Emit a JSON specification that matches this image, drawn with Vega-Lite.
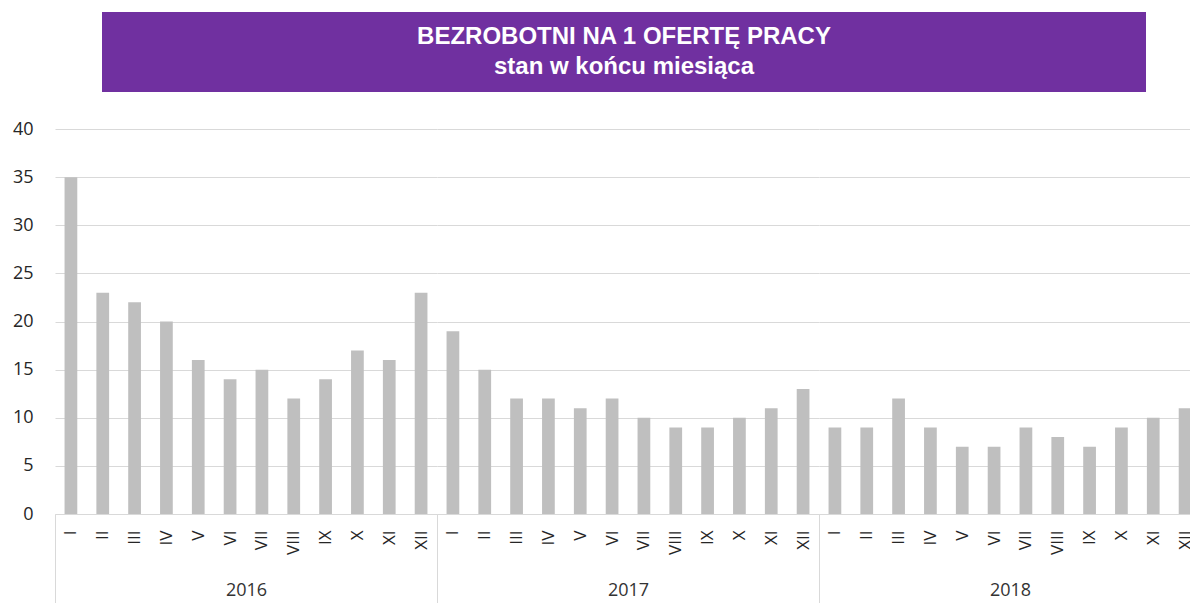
{
  "$schema": "https://vega.github.io/schema/vega-lite/v6.json",
  "padding": {"left": 12, "top": 12, "right": 0, "bottom": 0},
  "background": "white",
  "config": {"view": {"stroke": null}, "font": "Open Sans"},
  "datasets": {
    "bezrobotni": [
      {"year": "2016", "month": "I", "value": 35},
      {"year": "2016", "month": "II", "value": 23},
      {"year": "2016", "month": "III", "value": 22},
      {"year": "2016", "month": "IV", "value": 20},
      {"year": "2016", "month": "V", "value": 16},
      {"year": "2016", "month": "VI", "value": 14},
      {"year": "2016", "month": "VII", "value": 15},
      {"year": "2016", "month": "VIII", "value": 12},
      {"year": "2016", "month": "IX", "value": 14},
      {"year": "2016", "month": "X", "value": 17},
      {"year": "2016", "month": "XI", "value": 16},
      {"year": "2016", "month": "XII", "value": 23},
      {"year": "2017", "month": "I", "value": 19},
      {"year": "2017", "month": "II", "value": 15},
      {"year": "2017", "month": "III", "value": 12},
      {"year": "2017", "month": "IV", "value": 12},
      {"year": "2017", "month": "V", "value": 11},
      {"year": "2017", "month": "VI", "value": 12},
      {"year": "2017", "month": "VII", "value": 10},
      {"year": "2017", "month": "VIII", "value": 9},
      {"year": "2017", "month": "IX", "value": 9},
      {"year": "2017", "month": "X", "value": 10},
      {"year": "2017", "month": "XI", "value": 11},
      {"year": "2017", "month": "XII", "value": 13},
      {"year": "2018", "month": "I", "value": 9},
      {"year": "2018", "month": "II", "value": 9},
      {"year": "2018", "month": "III", "value": 12},
      {"year": "2018", "month": "IV", "value": 9},
      {"year": "2018", "month": "V", "value": 7},
      {"year": "2018", "month": "VI", "value": 7},
      {"year": "2018", "month": "VII", "value": 9},
      {"year": "2018", "month": "VIII", "value": 8},
      {"year": "2018", "month": "IX", "value": 7},
      {"year": "2018", "month": "X", "value": 9},
      {"year": "2018", "month": "XI", "value": 10},
      {"year": "2018", "month": "XII", "value": 11}
    ]
  },
  "spacing": 28,
  "vconcat": [
    {
      "spacing": 0,
      "hconcat": [
        {
          "width": 47,
          "height": 80,
          "data": {"values": [{}]},
          "mark": {"type": "text"},
          "encoding": {"text": {"value": ""}}
        },
        {
          "width": 1044,
          "height": 80,
          "view": {"fill": "#7030A0", "stroke": null},
          "data": {"values": [{}]},
          "mark": {
            "type": "text",
            "font": "Liberation Sans",
            "fontWeight": "bold",
            "fontSize": 24,
            "lineHeight": 30,
            "dy": -15,
            "color": "white",
            "align": "center",
            "baseline": "middle"
          },
          "encoding": {
            "text": {"value": ["BEZROBOTNI NA 1 OFERTĘ PRACY", "stan w końcu miesiąca"]}
          }
        }
      ]
    },
    {
      "spacing": 0,
      "bounds": "flush",
      "data": {"name": "bezrobotni"},
      "hconcat": [
        {
          "width": 382,
          "height": 385,
          "transform": [{"filter": "datum.year === '2016'"}],
          "mark": {"type": "bar", "color": "#bfbfbf"},
          "encoding": {
            "x": {
              "field": "month",
              "type": "ordinal",
              "sort": ["I", "II", "III", "IV", "V", "VI", "VII", "VIII", "IX", "X", "XI", "XII"],
              "scale": {"paddingInner": 0.6, "paddingOuter": 0.3},
              "axis": {
                "title": "2016",
                "titleFontSize": 18,
                "titleFontWeight": "normal",
                "titleColor": "#333333",
                "titleBaseline": "middle",
                "titleY": 76,
                "labelAngle": -90,
                "labelFontSize": 17,
                "labelColor": "#262626",
                "labelPadding": -74,
                "labelOffset": 15.917,
                "domainColor": "#d9d9d9",
                "tickOffset": -15.917,
                "tickSize": 90,
                "tickColor": "#d9d9d9",
                "tickOpacity": {"condition": {"test": "datum.value === 'I'", "value": 1}, "value": 0}
              }
            },
            "y": {
              "field": "value",
              "type": "quantitative",
              "scale": {"domain": [0, 40], "nice": false},
              "axis": {
                "title": null,
                "values": [0, 5, 10, 15, 20, 25, 30, 35, 40],
                "labelFontSize": 18,
                "labelColor": "#262626",
                "labelPadding": 22,
                "ticks": false,
                "domain": false,
                "gridColor": "#d9d9d9"
              }
            }
          }
        },
        {
          "width": 382,
          "height": 385,
          "transform": [{"filter": "datum.year === '2017'"}],
          "mark": {"type": "bar", "color": "#bfbfbf"},
          "encoding": {
            "x": {
              "field": "month",
              "type": "ordinal",
              "sort": ["I", "II", "III", "IV", "V", "VI", "VII", "VIII", "IX", "X", "XI", "XII"],
              "scale": {"paddingInner": 0.6, "paddingOuter": 0.3},
              "axis": {
                "title": "2017",
                "titleFontSize": 18,
                "titleFontWeight": "normal",
                "titleColor": "#333333",
                "titleBaseline": "middle",
                "titleY": 76,
                "labelAngle": -90,
                "labelFontSize": 17,
                "labelColor": "#262626",
                "labelPadding": -74,
                "labelOffset": 15.917,
                "domainColor": "#d9d9d9",
                "tickOffset": -15.917,
                "tickSize": 90,
                "tickColor": "#d9d9d9",
                "tickOpacity": {"condition": {"test": "datum.value === 'I'", "value": 1}, "value": 0}
              }
            },
            "y": {
              "field": "value",
              "type": "quantitative",
              "scale": {"domain": [0, 40], "nice": false},
              "axis": {
                "title": null,
                "values": [0, 5, 10, 15, 20, 25, 30, 35, 40],
                "labels": false,
                "ticks": false,
                "domain": false,
                "gridColor": "#d9d9d9"
              }
            }
          }
        },
        {
          "width": 382,
          "height": 385,
          "transform": [{"filter": "datum.year === '2018'"}],
          "mark": {"type": "bar", "color": "#bfbfbf"},
          "encoding": {
            "x": {
              "field": "month",
              "type": "ordinal",
              "sort": ["I", "II", "III", "IV", "V", "VI", "VII", "VIII", "IX", "X", "XI", "XII"],
              "scale": {"paddingInner": 0.6, "paddingOuter": 0.3},
              "axis": {
                "title": "2018",
                "titleFontSize": 18,
                "titleFontWeight": "normal",
                "titleColor": "#333333",
                "titleBaseline": "middle",
                "titleY": 76,
                "labelAngle": -90,
                "labelFontSize": 17,
                "labelColor": "#262626",
                "labelPadding": -74,
                "labelOffset": 15.917,
                "domainColor": "#d9d9d9",
                "tickOffset": -15.917,
                "tickSize": 90,
                "tickColor": "#d9d9d9",
                "tickOpacity": {"condition": {"test": "datum.value === 'I'", "value": 1}, "value": 0}
              }
            },
            "y": {
              "field": "value",
              "type": "quantitative",
              "scale": {"domain": [0, 40], "nice": false},
              "axis": {
                "title": null,
                "values": [0, 5, 10, 15, 20, 25, 30, 35, 40],
                "labels": false,
                "ticks": false,
                "domain": false,
                "gridColor": "#d9d9d9"
              }
            }
          }
        }
      ]
    }
  ]
}
